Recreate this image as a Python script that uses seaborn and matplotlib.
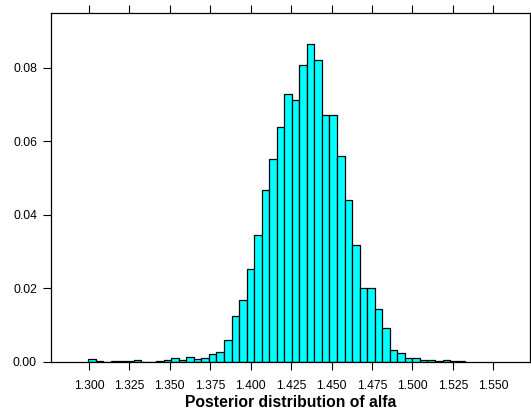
import numpy as np
import pandas as pd
import matplotlib
matplotlib.use("Agg")
import matplotlib.pyplot as plt
import seaborn as sns

# Histogram of posterior draws for alfa: proportion of draws per bin
bin_start = 1.2996
bin_width = 0.00466
proportions = [
    0.0008, 0.0002, 0.0001, 0.0003, 0.0002, 0.0004, 0.0005, 0.0001, 0.0001, 0.0003,
    0.0006, 0.0010, 0.0005, 0.0013, 0.0008, 0.0012, 0.0022, 0.0027, 0.0061, 0.0125,
    0.0168, 0.0252, 0.0345, 0.0467, 0.0553, 0.0640, 0.0729, 0.0712, 0.0809, 0.0865,
    0.0821, 0.0673, 0.0671, 0.0561, 0.0440, 0.0318, 0.0202, 0.0200, 0.0143, 0.0092,
    0.0033, 0.0024, 0.0010, 0.0010, 0.0005, 0.0005, 0.0003, 0.0006, 0.0004, 0.0002,
]
x_ticks = [1.300, 1.325, 1.350, 1.375, 1.400, 1.425, 1.450, 1.475, 1.500, 1.525, 1.550]
y_ticks = [0.00, 0.02, 0.04, 0.06, 0.08]
x_label = "Posterior distribution of alfa"

edges = bin_start + bin_width * np.arange(len(proportions) + 1)
df = pd.DataFrame({
    "alfa": (edges[:-1] + edges[1:]) / 2,
    "prop": proportions,
})

sns.set_style("white")
plt.rcParams["font.family"] = ["Liberation Sans", "DejaVu Sans"]
plt.rcParams.update({
    "text.color": "black",
    "axes.labelcolor": "black",
    "xtick.color": "black",
    "ytick.color": "black",
})

fig = plt.figure(figsize=(5.31, 4.13), dpi=100)
ax = fig.add_axes([0.0966, 0.1235, 0.9015, 0.8458])

sns.histplot(data=df, x="alfa", weights="prop", bins=list(edges), stat="count",
             color="#00FFFF", edgecolor="black", linewidth=0.9, alpha=1.0, ax=ax)

ax.set_xlim(1.2767, 1.5727)
ax.set_ylim(0, 0.09505)
ax.set_xticks(x_ticks)
ax.set_xticklabels([f"{v:.3f}" for v in x_ticks])
ax.set_yticks(y_ticks)
ax.set_yticklabels([f"{v:.2f}" for v in y_ticks])

ax.tick_params(axis="x", which="both", direction="out", length=5.8, width=0.8,
               color="black", labelcolor="black", labelsize=8.7, pad=7,
               top=True, labeltop=False, bottom=True)
ax.tick_params(axis="y", which="both", direction="out", length=5.8, width=0.8,
               color="black", labelcolor="black", labelsize=8.7, pad=4.5,
               left=True, right=False)

for s in ax.spines.values():
    s.set_visible(True)
    s.set_color("black")
    s.set_linewidth(0.9)

ax.set_ylabel("")
ax.set_xlabel(x_label, fontsize=11.3, fontweight="bold", color="black", labelpad=2)

fig.savefig("out.png", dpi=100)
